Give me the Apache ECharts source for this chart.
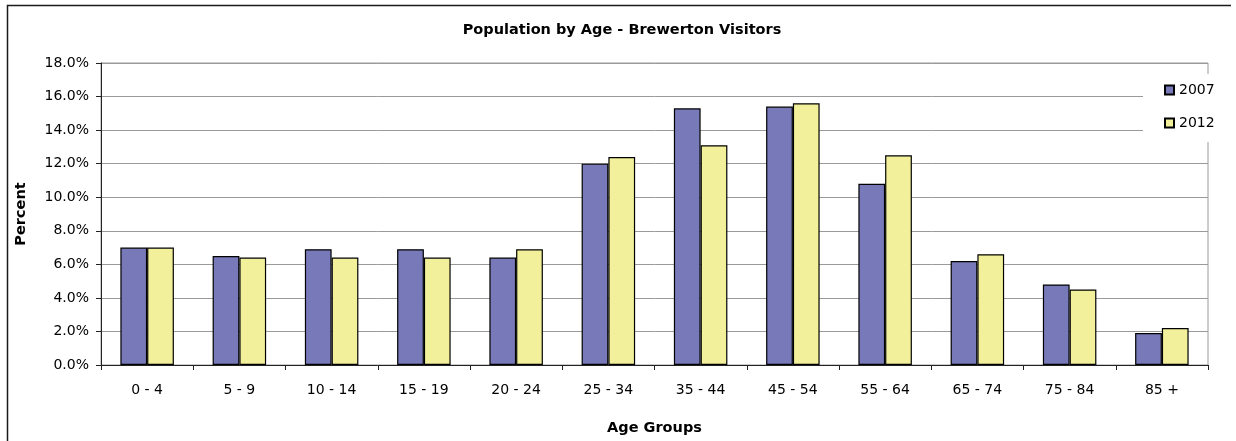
<!DOCTYPE html>
<html>
<head>
<meta charset="utf-8">
<title>Population by Age - Brewerton Visitors</title>
<script src="https://cdn.jsdelivr.net/npm/echarts@6/dist/echarts.min.js"></script>
<style>
  html, body { margin: 0; padding: 0; background: #fff; }
  #chart { width: 1236px; height: 441px; }
</style>
</head>
<body>
<div id="chart"></div>
<script>
// Age groups along the horizontal axis
const ageGroups = ['0 - 4', '5 - 9', '10 - 14', '15 - 19', '20 - 24', '25 - 34',
                   '35 - 44', '45 - 54', '55 - 64', '65 - 74', '75 - 84', '85 +'];

// Share of visitors in each age group, in percent
const visitors2007 = [7.0, 6.5, 6.9, 6.9, 6.4, 12.0, 15.3, 15.4, 10.8, 6.2, 4.8, 1.9];
const visitors2012 = [7.0, 6.4, 6.4, 6.4, 6.9, 12.4, 13.1, 15.6, 12.5, 6.6, 4.5, 2.2];

const seriesNames = ['2007', '2012'];

const FONT = 'DejaVu Sans';

const chart = echarts.init(document.getElementById('chart'), null, { renderer: 'canvas' });

chart.setOption({
  backgroundColor: '#ffffff',
  animation: false,
  textStyle: { fontFamily: FONT, color: '#000' },
  title: {
    text: 'Population by Age - Brewerton Visitors',
    left: 622,
    textAlign: 'center',
    top: 23,
    padding: 0,
    textStyle: { fontFamily: FONT, fontSize: 14.5, fontWeight: 'bold', color: '#000' }
  },
  legend: {
    orient: 'vertical',
    left: 1143,
    top: 74,
    padding: [9, 30, 12, 21],
    backgroundColor: '#ffffff',
    itemWidth: 9,
    itemHeight: 9,
    itemGap: 19,
    icon: 'rect',
    data: seriesNames,
    textStyle: { fontFamily: FONT, fontSize: 14, color: '#000' }
  },
  grid: {
    left: 101,
    right: 28,
    top: 63,
    bottom: 74,
    show: true,
    borderColor: '#9a9a9a',
    borderWidth: 1,
    backgroundColor: 'transparent'
  },
  xAxis: {
    type: 'category',
    data: ageGroups,
    name: 'Age Groups',
    nameLocation: 'middle',
    nameGap: 56,
    nameTextStyle: { fontFamily: FONT, fontSize: 14.5, fontWeight: 'bold', color: '#000' },
    axisLine: { lineStyle: { color: '#222', width: 1 } },
    axisTick: { show: true, length: 5, lineStyle: { color: '#222' } },
    axisLabel: { fontFamily: FONT, fontSize: 14, color: '#000', margin: 18, interval: 0 },
    splitLine: { show: false }
  },
  yAxis: {
    type: 'value',
    min: 0,
    max: 18,
    interval: 2,
    name: 'Percent',
    nameLocation: 'middle',
    nameGap: 72,
    nameRotate: 90,
    nameTextStyle: { fontFamily: FONT, fontSize: 14.5, fontWeight: 'bold', color: '#000' },
    axisLine: { show: true, lineStyle: { color: '#222', width: 1 } },
    axisTick: { show: true, length: 5, lineStyle: { color: '#222' } },
    axisLabel: {
      fontFamily: FONT, fontSize: 14, color: '#000', margin: 12,
      formatter: v => v.toFixed(1) + '%'
    },
    splitLine: { show: true, lineStyle: { color: '#9a9a9a', width: 1 } }
  },
  series: [
    {
      name: seriesNames[0],
      type: 'bar',
      data: visitors2007,
      barGap: '0%',
      barCategoryGap: '42%',
      itemStyle: { color: '#7779B8', borderColor: '#000', borderWidth: 1.2 }
    },
    {
      name: seriesNames[1],
      type: 'bar',
      data: visitors2012,
      barGap: '0%',
      barCategoryGap: '42%',
      itemStyle: { color: '#F2F09B', borderColor: '#000', borderWidth: 1.2 }
    }
  ],
  graphic: [
    {
      // Chart frame: left and top edges, running off the page
      type: 'polyline',
      silent: true,
      z: 100,
      shape: { points: [[7.5, 441], [7.5, 5.5], [1231, 5.5]] },
      style: { fill: null, stroke: '#1a1a1a', lineWidth: 1.5 }
    }
  ]
});
</script>
</body>
</html>
